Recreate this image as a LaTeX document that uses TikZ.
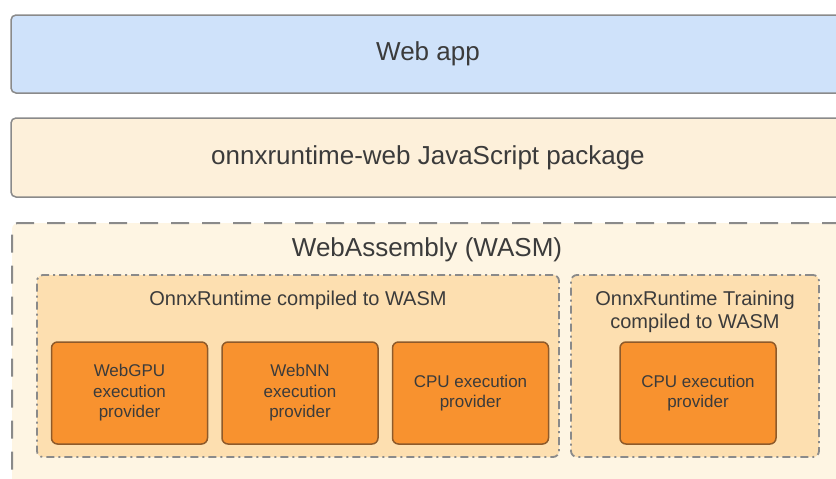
\documentclass[tikz,border=0pt]{standalone}
\usepackage{fontspec}
\setmainfont{Liberation Sans}
\usepackage{xcolor}
\usetikzlibrary{positioning}

\definecolor{appblue}{HTML}{CFE2FA}
\definecolor{pkgcream}{HTML}{FDF0DA}
\definecolor{wasmcream}{HTML}{FEF5E3}
\definecolor{ortpeach}{HTML}{FDDFB0}
\definecolor{eporange}{HTML}{F8922F}
\definecolor{epborder}{HTML}{8E5A2A}
\definecolor{boxgray}{HTML}{8A8A8A}
\definecolor{txtgray}{HTML}{3B3B3B}

\tikzset{
  layer/.style={draw=boxgray, line width=1.5pt, rounded corners=5pt,
    minimum width=834pt, minimum height=78pt, text=txtgray,
    font=\fontsize{26}{30}\selectfont},
  wasmbox/.style={draw=boxgray, line width=2pt, rounded corners=6pt,
    fill=wasmcream, dash pattern=on 18pt off 13pt},
  ortbox/.style={draw=boxgray, line width=1.8pt, rounded corners=6pt,
    fill=ortpeach, dash pattern=on 8pt off 4pt on 2pt off 4pt,
    minimum height=182pt},
  epbox/.style={draw=epborder, line width=1.5pt, rounded corners=6pt,
    fill=eporange, minimum width=156pt, minimum height=102pt,
    align=center, text=txtgray, font=\fontsize{17}{20.5}\selectfont},
  boxtitle/.style={text=txtgray, align=center, font=\fontsize{20}{23}\selectfont}
}

\begin{document}
\begin{tikzpicture}[x=1pt,y=-1pt]
  % fixed picture frame
  \useasboundingbox (0,0) rectangle (836,479);
  \clip (0,0) rectangle (836,479);

  % the two upper layers
  \node[layer, fill=appblue] (webapp) at (428,54) {Web app};
  \node[layer, fill=pkgcream, minimum height=79pt] (ortweb) at (428,157.5)
    {onnxruntime-web JavaScript package};

  % WebAssembly layer, running past the frame
  \node[wasmbox, minimum width=834pt, minimum height=272pt] (wasm) at (429,359) {};
  \node[text=txtgray, font=\fontsize{26}{30}\selectfont] (wasmtitle) at (427,250)
    {WebAssembly (WASM)};

  % the two runtime builds
  \node[ortbox, minimum width=522pt] (ort) at (298,366) {};
  \node[boxtitle] (orttitle) at (298,300) {OnnxRuntime compiled to WASM};
  \node[ortbox, minimum width=248pt] (orttrain) at (695,366) {};
  \node[boxtitle] (orttraintitle) at (695,311.5)
    {OnnxRuntime Training\\compiled to WASM};

  % execution providers
  \node[epbox] (webgpu) at (129.5,393) {WebGPU\\execution\\provider};
  \node[epbox, right=13pt of webgpu] (webnn) {WebNN\\execution\\provider};
  \node[epbox, right=13pt of webnn] (cpu) {CPU execution\\provider};
  \node[epbox] (traincpu) at (698,393) {CPU execution\\provider};
\end{tikzpicture}
\end{document}
